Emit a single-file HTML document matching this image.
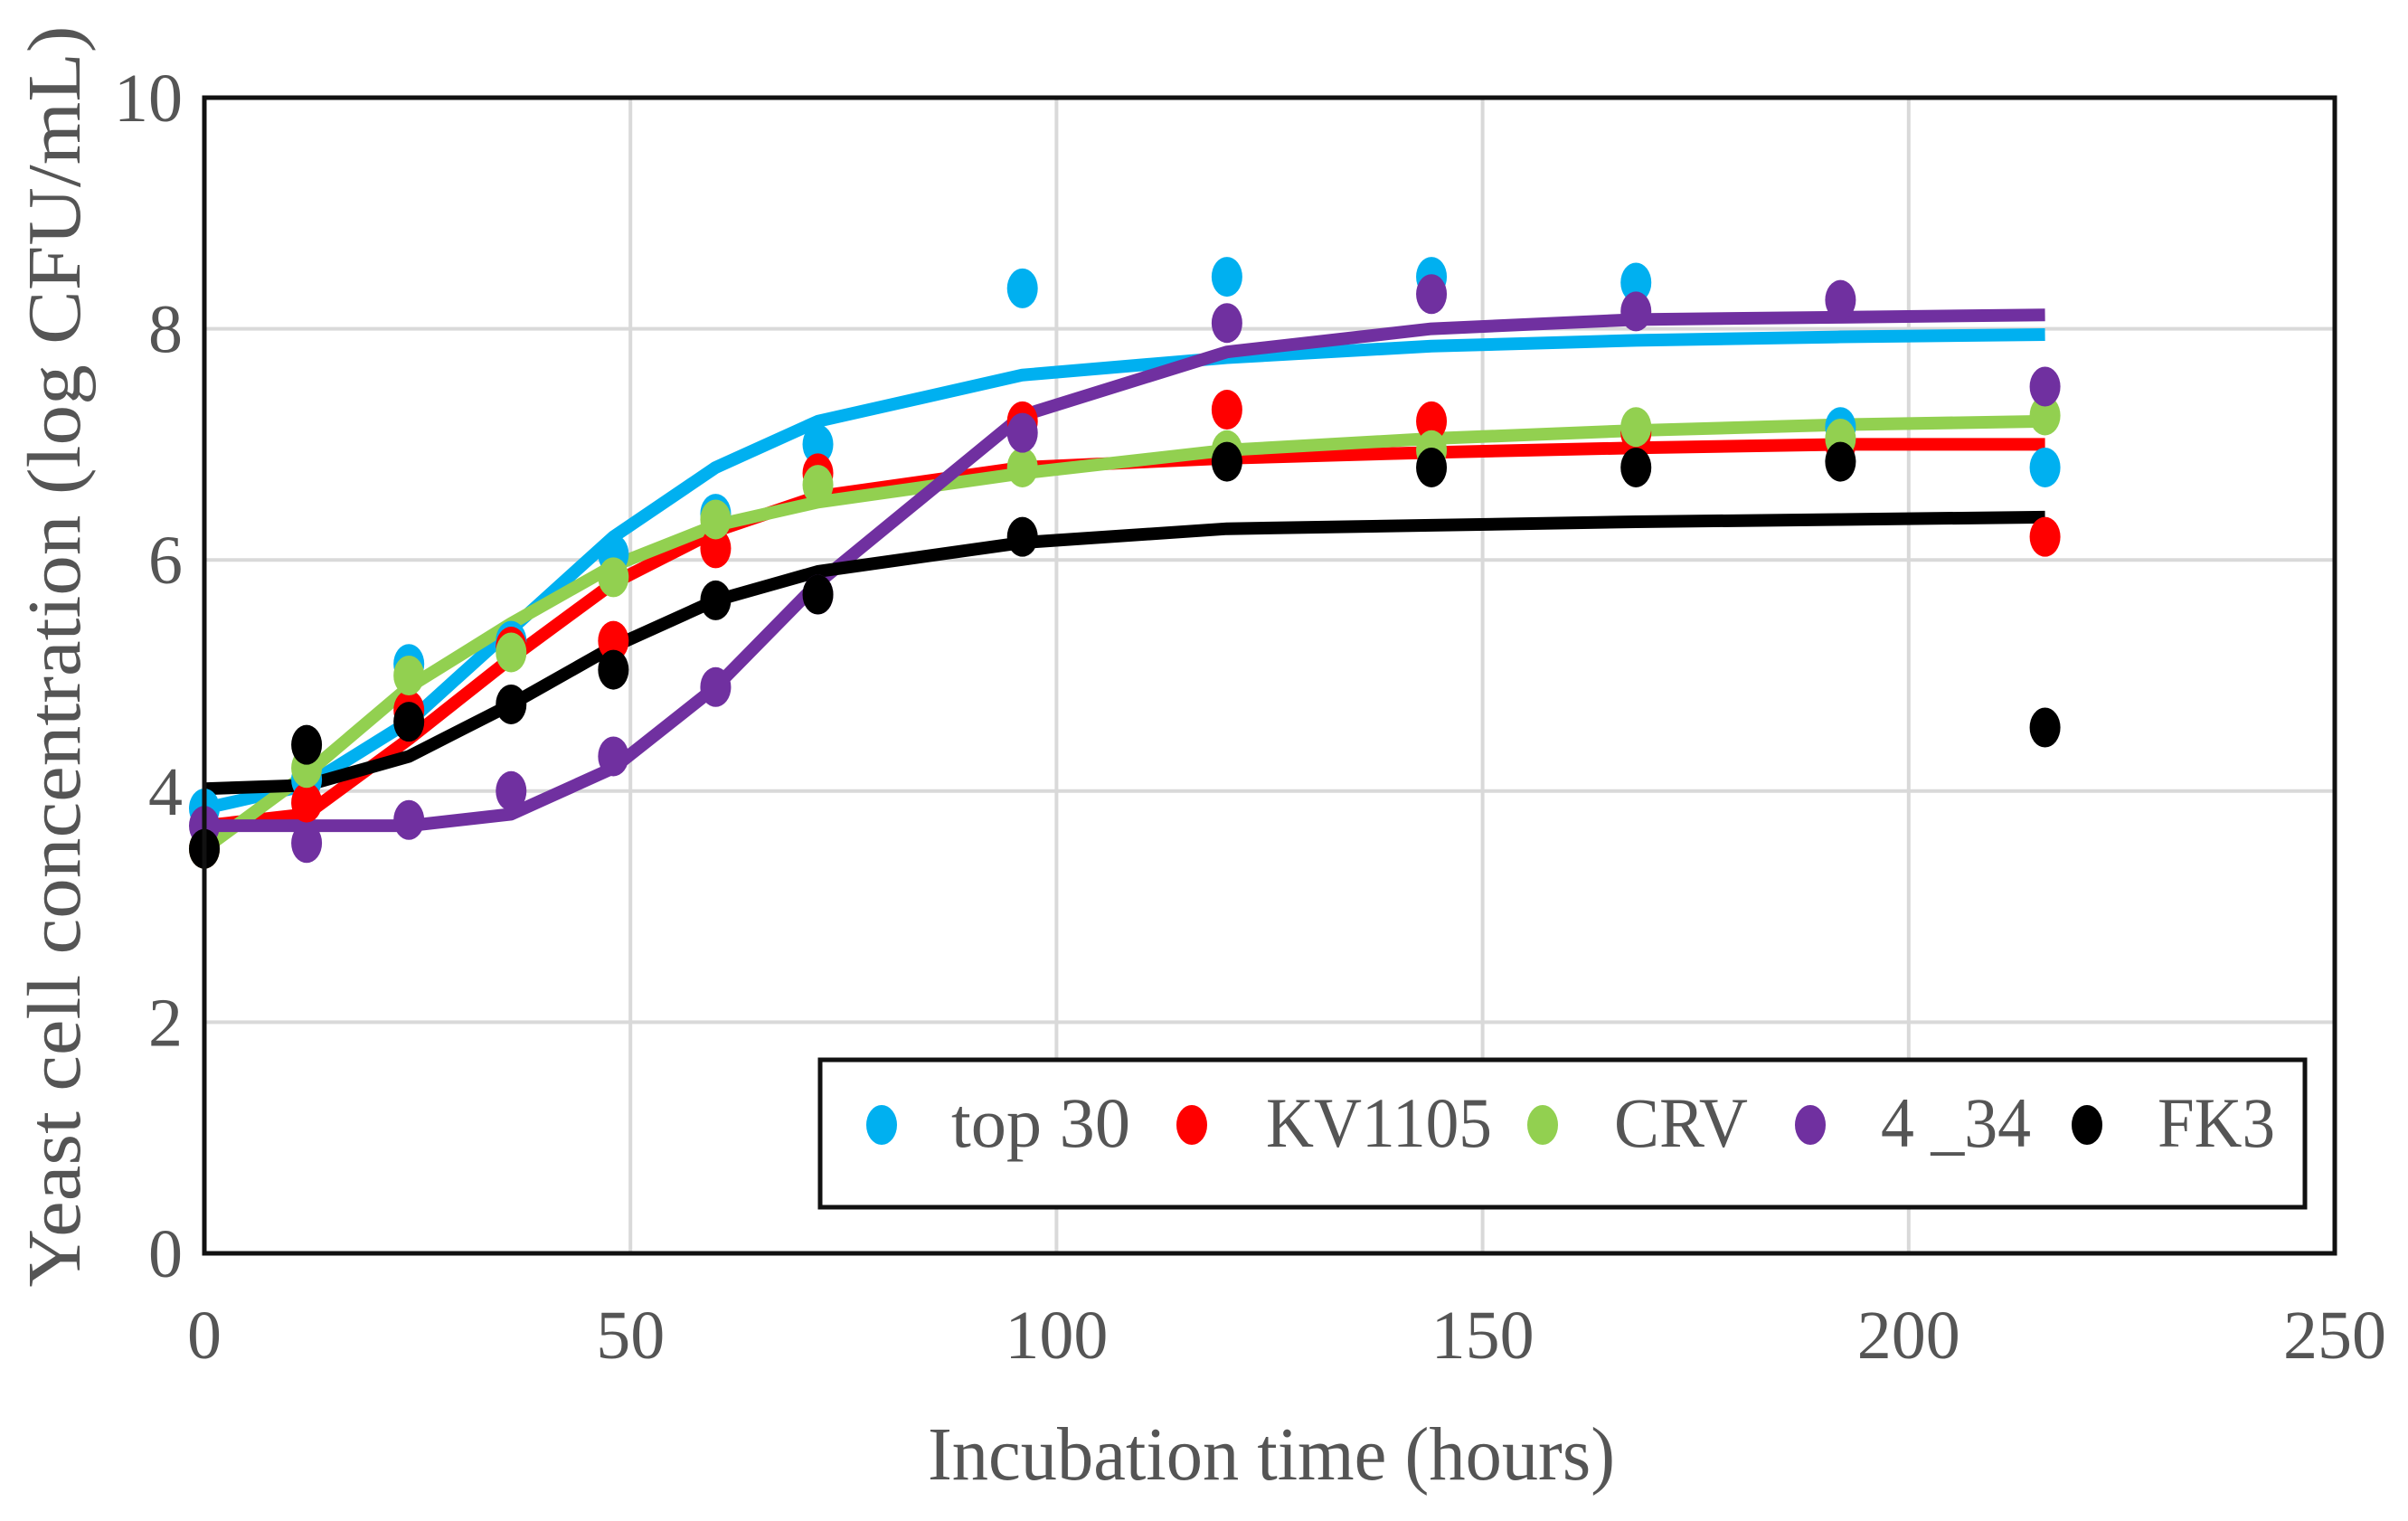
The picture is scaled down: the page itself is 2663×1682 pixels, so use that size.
<!DOCTYPE html>
<html><head><meta charset="utf-8"><style>
html,body{margin:0;padding:0;background:#fff;}
svg{display:block;}
text{font-family:"Liberation Serif",serif;fill:#555;}
</style></head><body>
<svg id="chart" width="2663" height="1682" viewBox="0 0 2663 1682" xmlns="http://www.w3.org/2000/svg">
<g id="grid"></g>
<g id="series"></g>
<rect x="226" y="108" width="2356" height="1278" fill="none" stroke="#111" stroke-width="5"/>
<g id="ticks"></g>
<text x="1406" y="1636" font-size="84" text-anchor="middle" textLength="760" lengthAdjust="spacingAndGlyphs">Incubation time (hours)</text>
<text transform="translate(88,726) rotate(-90)" font-size="84" text-anchor="middle" textLength="1395" lengthAdjust="spacingAndGlyphs">Yeast cell concentration (log CFU/mL)</text>
<g>
<rect x="907" y="1172" width="1642" height="163" fill="#fff" stroke="#111" stroke-width="5"/>
<g id="legend-items"></g>
</g>
</svg>
<script>
const times = [0,12,24,36,48,60,72,96,120,144,168,192,216];
const seriesNames = ["top 30","KV1105","CRV","4 _34","FK3"];
const top30Points = [3.85,4.1,5.1,5.3,6.05,6.4,7.0,8.35,8.45,8.45,8.4,7.15,6.8];
const kvPoints = [3.5,3.9,4.7,5.25,5.3,6.1,6.75,7.2,7.3,7.2,7.1,7.0,6.2];
const crvPoints = [3.5,4.2,5.0,5.2,5.85,6.35,6.65,6.8,6.95,6.95,7.15,7.05,7.25];
const s434Points = [3.7,3.55,3.75,4.0,4.3,4.9,5.7,7.1,8.05,8.3,8.15,8.25,7.5];
const fk3Points = [3.5,4.4,4.6,4.75,5.05,5.65,5.7,6.2,6.85,6.8,6.8,6.85,4.55];
const top30Fit = [3.85,4.05,4.6,5.4,6.2,6.8,7.2,7.6,7.75,7.85,7.9,7.93,7.95];
const kvFit = [3.7,3.8,4.45,5.15,5.8,6.25,6.55,6.8,6.88,6.93,6.97,7.0,7.0];
const crvFit = [3.5,4.15,4.9,5.45,5.95,6.3,6.5,6.75,6.95,7.05,7.12,7.17,7.2];
const s434Fit = [3.7,3.7,3.7,3.8,4.2,4.9,5.8,7.25,7.8,8.0,8.08,8.1,8.12];
const fk3Fit = [4.02,4.05,4.3,4.75,5.25,5.65,5.9,6.15,6.27,6.3,6.33,6.35,6.37];
const xTicks = [0,50,100,150,200,250];
const yTicks = [0,2,4,6,8,10];

const NS="http://www.w3.org/2000/svg";
const X0=226,X1=2582,Y0=1386,Y1=108;
const xs=v=>X0+(v/250)*(X1-X0);
const ys=v=>Y0-(v/10)*(Y0-Y1);
function mk(tag,attrs,parent){const e=document.createElementNS(NS,tag);for(const k in attrs)e.setAttribute(k,attrs[k]);parent.appendChild(e);return e;}
const grid=document.getElementById('grid'),ticks=document.getElementById('ticks'),ser=document.getElementById('series'),leg=document.getElementById('legend-items');
xTicks.forEach(t=>{
  if(t>0&&t<250){const l=mk('line',{x1:xs(t),x2:xs(t),y1:Y1,y2:Y0,stroke:'#d9d9d9','stroke-width':4},grid);
  
  }
  const tx=mk('text',{x:xs(t),y:1502,'font-size':76,'text-anchor':'middle'},ticks);tx.textContent=t;
  
  
});
yTicks.forEach(t=>{
  if(t>0&&t<10){const l=mk('line',{x1:X0,x2:X1,y1:ys(t),y2:ys(t),stroke:'#d9d9d9','stroke-width':4},grid);
  
  }
  const tx=mk('text',{x:202,y:ys(t)+26,'font-size':76,'text-anchor':'end'},ticks);tx.textContent=t;
  
  
});
const colors=['#00b0f0','#ff0000','#92d050','#7030a0','#000000'];
const pts=[top30Points,kvPoints,crvPoints,s434Points,fk3Points];
const fits=[top30Fit,kvFit,crvFit,s434Fit,fk3Fit];
const keys=['top30','kv1105','crv','4-34','fk3'];
fits.forEach((f,i)=>{
  const p=mk('polyline',{points:f.map((v,j)=>xs(times[j])+','+ys(v)).join(' '),fill:'none',stroke:colors[i],'stroke-width':14,'stroke-linejoin':'round'},ser);
  
  
});
pts.forEach((s,i)=>{
  s.forEach((v,j)=>{
    const e=mk('ellipse',{cx:xs(times[j]),cy:ys(v),rx:17,ry:22,fill:colors[i]},ser);
    
    
  });
});
const legX=[975,1318,1706,2002,2308],txtX=[1052,1400,1785,2080,2386],txtW=[198,250,148,166,130];
seriesNames.forEach((n,i)=>{
  const e=mk('ellipse',{cx:legX[i],cy:1244,rx:17,ry:22,fill:colors[i]},leg);
  
  
  const t=mk('text',{x:txtX[i],y:1268,'font-size':78,textLength:txtW[i],lengthAdjust:'spacingAndGlyphs'},leg);t.textContent=n;
  
  
});
</script>
</body></html>
